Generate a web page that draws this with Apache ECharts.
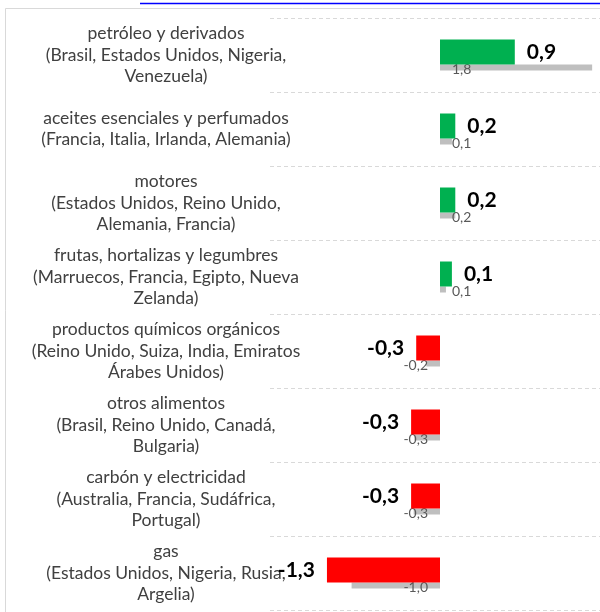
<!DOCTYPE html>
<html>
<head>
<meta charset="utf-8">
<script src="https://cdn.jsdelivr.net/npm/echarts@6/dist/echarts.min.js"></script>
<style>
  html, body { margin: 0; padding: 0; background: #fff; }
  #chart { width: 600px; height: 612px; }
</style>
</head>
<body>
<div id="chart"></div>
<script>
// categorías (de arriba hacia abajo)
var categories = [
  "petróleo y derivados\n(Brasil, Estados Unidos, Nigeria,\nVenezuela)",
  "aceites esenciales y perfumados\n(Francia, Italia, Irlanda, Alemania)",
  "motores\n(Estados Unidos, Reino Unido,\nAlemania, Francia)",
  "frutas, hortalizas y legumbres\n(Marruecos, Francia, Egipto, Nueva\nZelanda)",
  "productos químicos orgánicos\n(Reino Unido, Suiza, India, Emiratos\nÁrabes Unidos)",
  "otros alimentos\n(Brasil, Reino Unido, Canadá,\nBulgaria)",
  "carbón y electricidad\n(Australia, Francia, Sudáfrica,\nPortugal)",
  "gas\n(Estados Unidos, Nigeria, Rusia,\nArgelia)",
];
// valor actual (barra gruesa)
var currentValues = [0.88, 0.18, 0.18, 0.14, -0.28, -0.34, -0.34, -1.33];
// valor anterior (barra gris fina)
var previousValues = [1.79, 0.14, 0.18, 0.07, -0.16, -0.3, -0.31, -1.04];

var FONT = "Lato";

function fmt(v) {
  return v.toFixed(1).replace(".", ",");
}

var chart = echarts.init(document.getElementById("chart"));

var currentData = currentValues.map(function (v) {
  return {
    value: v,
    itemStyle: { color: v >= 0 ? "#00b050" : "#ff0000" },
    label: { position: v >= 0 ? "right" : "left" },
  };
});

var previousData = previousValues.map(function (v) {
  return {
    value: v,
    label: { position: v >= 0 ? "insideLeft" : "insideRight" },
  };
});

var option = {
  animation: false,
  backgroundColor: "#fff",
  grid: {
    left: 270,
    top: 18,
    width: 340,
    height: 592,
    outerBoundsMode: "none",
  },
  xAxis: {
    type: "value",
    min: -2,
    max: 2,
    show: false,
  },
  yAxis: {
    type: "category",
    inverse: true,
    data: categories,
    axisLine: { show: false },
    axisTick: { show: false },
    splitLine: {
      show: true,
      lineStyle: { color: "#d9d9d9", type: [4, 3], width: 1 },
    },
    axisLabel: {
      align: "center",
      margin: 104,
      fontFamily: FONT,
      fontSize: 17.5,
      lineHeight: 21.5,
      color: "#404040",
    },
  },
  series: [
    {
      name: "actual",
      type: "bar",
      barWidth: 25,
      barGap: "0%",
      data: currentData,
      z: 3,
      label: {
        show: true,
        distance: 12,
        fontFamily: FONT,
        fontSize: 21,
        fontWeight: "bold",
        color: "#000",
        formatter: function (p) {
          return fmt(p.value);
        },
      },
    },
    {
      name: "anterior",
      type: "bar",
      barWidth: 6,
      data: previousData,
      itemStyle: { color: "#bfbfbf" },
      z: 2,
      label: {
        show: true,
        distance: 12,
        offset: [0, 2],
        fontFamily: FONT,
        fontSize: 14,
        color: "#595959",
        formatter: function (p) {
          return fmt(p.value);
        },
      },
    },
  ],
  graphic: [
    {
      type: "line",
      shape: { x1: 140, y1: 3.5, x2: 600, y2: 3.5 },
      style: { stroke: "#0000ff", lineWidth: 1.5 },
    },
    {
      type: "polyline",
      shape: { points: [[5.5, 612], [5.5, 8.5], [600, 8.5]] },
      style: { stroke: "#d9d9d9", lineWidth: 1, fill: null },
    },
  ],
};

chart.setOption(option);
</script>
</body>
</html>
